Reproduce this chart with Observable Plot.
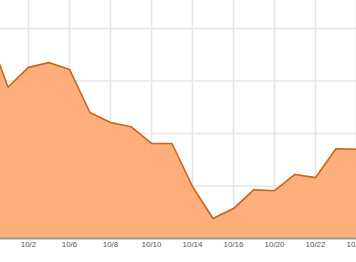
<!DOCTYPE html>
<html>
<head>
<meta charset="utf-8">
<script src="https://cdn.jsdelivr.net/npm/d3@7"></script>
<script src="https://cdn.jsdelivr.net/npm/@observablehq/plot@0.6"></script>
<style>
  html, body { margin: 0; padding: 0; background: #fff; }
  #chart { width: 356px; height: 262px; overflow: hidden; }
</style>
</head>
<body>
<div id="chart"></div>
<script>
// Trading days (October 2014, weekends skipped)
const dates = ["9/30","10/1","10/2","10/3","10/6","10/7","10/8","10/9","10/10","10/13",
               "10/14","10/15","10/16","10/17","10/20","10/21","10/22","10/23","10/24"];
const values = [39.5, 28.8, 32.6, 33.5, 32.2, 24.0, 22.1, 21.3, 18.1, 18.1,
                9.9, 3.8, 5.7, 9.3, 9.1, 12.2, 11.6, 17.1, 17.0];
const tickLabels = ["10/2","10/6","10/8","10/10","10/14","10/16","10/20","10/22","10/24"];
const yTicks = [0, 10, 20, 30, 40];

const data = dates.map((d, i) => ({i, date: d, value: values[i]}));
const xTicks = tickLabels.map(t => dates.indexOf(t));

const chart = Plot.plot({
  width: 356,
  height: 262,
  marginLeft: 0,
  marginRight: 0,
  marginTop: 0,
  marginBottom: 24,
  style: {fontFamily: "Liberation Sans, Arial, sans-serif", fontSize: "8px", color: "#555", background: "#fff"},
  x: {domain: [2 - 28 / 20.5, 18], axis: null, label: null},
  y: {domain: [0, 238 / 5.25], axis: null, label: null},
  marks: [
    Plot.ruleX(xTicks, {stroke: "#e6e6e6", strokeWidth: 1.6}),
    Plot.ruleY(yTicks.slice(1), {stroke: "#e6e6e6", strokeWidth: 1.6}),
    Plot.areaY(data, {x: "i", y: "value", fill: "rgb(253,165,109)", fillOpacity: 0.9}),
    Plot.lineY(data, {x: "i", y: "value", stroke: "#c9651f", strokeWidth: 1.6}),
    Plot.ruleY([0], {stroke: "#9a9a9a", strokeWidth: 2}),
    Plot.axisX(xTicks, {tickSize: 0, tickPadding: 3, tickFormat: i => dates[i], fill: "#555", fontSize: 8, label: null})
  ]
});
document.getElementById("chart").appendChild(chart);
</script>
</body>
</html>
